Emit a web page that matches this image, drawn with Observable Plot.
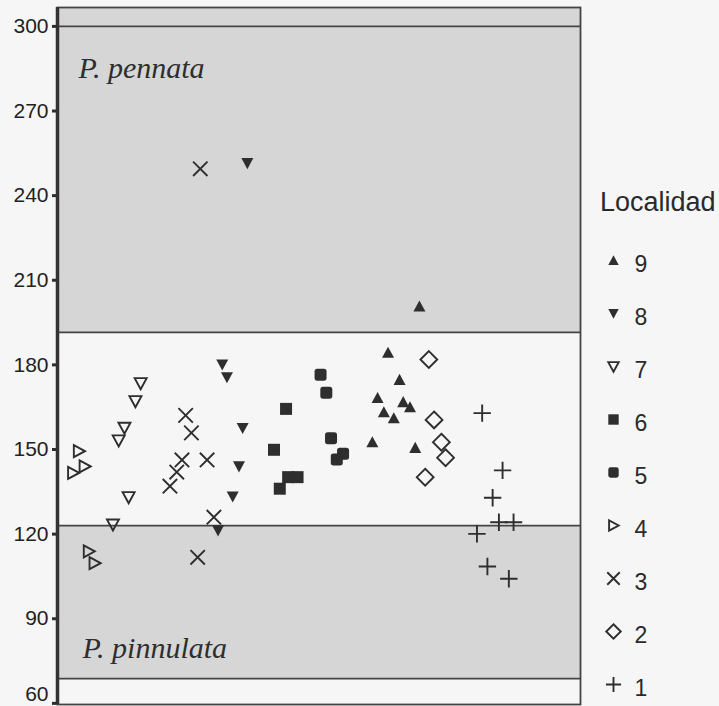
<!DOCTYPE html>
<html>
<head>
<meta charset="utf-8">
<script src="https://cdn.jsdelivr.net/npm/d3@7"></script>
<script src="https://cdn.jsdelivr.net/npm/@observablehq/plot@0.6"></script>
<style>
  html, body { margin: 0; padding: 0; background: #f6f6f6; }
  #wrap { position: relative; width: 719px; height: 706px; overflow: hidden; }
  #legendTitle { position: absolute; left: 600px; top: 189px; font: 27px "Liberation Sans", Arial, sans-serif; color: #2a2a2a; line-height: 1; }
  #legend { position: absolute; left: 590px; top: 235px; }
</style>
</head>
<body>
<div id="wrap">
  <div id="main"></div>
  <div id="legendTitle">Localidad</div>
  <div id="legend"></div>
</div>
<script>
// ---- data (x: arbitrary horizontal position 0-100, y: value) ----
const loc9 = [[69.2,200.7],[63.2,184.3],[65.4,174.7],[61.2,168.3],[66.1,166.8],[67.4,165],[62.4,163.2],[64.3,161.1],[60.2,152.6],[68.4,150.6]];
const loc8 = [[36.3,251.5],[31.5,180.1],[32.4,175.6],[35.4,157.6],[34.7,144],[33.5,133.3],[30.7,121.3]];
const loc7 = [[15.9,173.5],[14.9,167.1],[12.8,157.7],[11.7,153.2],[13.6,133.1],[10.6,123.4]];
const loc6 = [[43.7,164.4],[41.4,149.9],[42.5,136.1],[44.1,140.2],[45.9,140.2]];
const loc5 = [[50.3,176.5],[51.4,170.1],[52.3,154],[54.6,148.5],[53.4,146.5]];
const loc4 = [[4.1,149.4],[5.2,144],[3.0,141.7],[6.0,113.9],[7.1,109.7]];
const loc3 = [[27.3,249.5],[24.5,162.1],[25.6,155.9],[23.8,146.3],[28.6,146.3],[22.8,142],[21.5,137],[29.9,126],[26.8,111.8]];
const loc2 = [[71.0,181.9],[72.0,160.5],[73.4,152.6],[74.2,147.1],[70.3,140.2]];
const loc1 = [[81.2,162.9],[85.1,142.6],[83.2,132.9],[84.4,124.2],[87.2,124.2],[80.2,120.1],[82.2,108.5],[86.3,104.2]];

const localities = ["9","8","7","6","5","4","3","2","1"];
const yTicks = [60, 90, 120, 150, 180, 210, 240, 270, 300];
const xDomain = [0, 100];
const yDomain = [59.6, 306.7];
const bandPennata = [191.5, 306.7];
const bandPinnulata = [68.8, 123];
const boundaryLines = [300, 191.5, 123, 68.8];
const speciesNames = ["P. pennata", "P. pinnulata"];
const speciesX = [4.0, 4.8];
const speciesY = [281.6, 76.2];

// ---- symbols ----
const rad = size => Math.sqrt(size / Math.PI);
const symTriUp = {draw(c, s){const r=rad(s); c.moveTo(0,-r); c.lineTo(r,0.85*r); c.lineTo(-r,0.85*r); c.closePath();}};
const symTriDown = {draw(c, s){const r=rad(s); c.moveTo(0,r); c.lineTo(r,-0.85*r); c.lineTo(-r,-0.85*r); c.closePath();}};
const symTriRight = {draw(c, s){const r=rad(s); c.moveTo(r,0); c.lineTo(-0.85*r,-r); c.lineTo(-0.85*r,r); c.closePath();}};
const symSquare = {draw(c, s){const r=rad(s); c.rect(-r,-r,2*r,2*r);}};
const symRound = {draw(c, s){const r=rad(s), k=0.45*r;
  c.moveTo(-r+k,-r); c.lineTo(r-k,-r); c.quadraticCurveTo(r,-r,r,-r+k); c.lineTo(r,r-k); c.quadraticCurveTo(r,r,r-k,r);
  c.lineTo(-r+k,r); c.quadraticCurveTo(-r,r,-r,r-k); c.lineTo(-r,-r+k); c.quadraticCurveTo(-r,-r,-r+k,-r); c.closePath();}};
const symX = {draw(c, s){const r=rad(s)*1.2; c.moveTo(-r,-r); c.lineTo(r,r); c.moveTo(r,-r); c.lineTo(-r,r);}};
const symPlus = {draw(c, s){const r=rad(s)*1.45; c.moveTo(-r,0); c.lineTo(r,0); c.moveTo(0,-r); c.lineTo(0,r);}};
const symDiamond = {draw(c, s){const r=rad(s)*1.4; c.moveTo(0,-r); c.lineTo(r,0); c.lineTo(0,r); c.lineTo(-r,0); c.closePath();}};

const ink = "#2e2e2e";
const styles = {
  "9": {data: loc9, symbol: symTriUp, filled: true},
  "8": {data: loc8, symbol: symTriDown, filled: true},
  "7": {data: loc7, symbol: symTriDown, filled: false},
  "6": {data: loc6, symbol: symSquare, filled: true},
  "5": {data: loc5, symbol: symRound, filled: true},
  "4": {data: loc4, symbol: symTriRight, filled: false},
  "3": {data: loc3, symbol: symX, filled: false},
  "2": {data: loc2, symbol: symDiamond, filled: false},
  "1": {data: loc1, symbol: symPlus, filled: false}
};
const paint = (st, r) => st.filled
  ? {symbol: st.symbol, r, fill: ink, stroke: "none"}
  : {symbol: st.symbol, r, fill: "none", stroke: ink, strokeWidth: 1.9};

const dotMarks = localities.map(k => Plot.dot(styles[k].data, {x: d => d[0], y: d => d[1], ...paint(styles[k], 6)}));
const axisFont = {fontSize: 21, fill: "#222"};

const main = Plot.plot({
  width: 719, height: 706,
  marginLeft: 57, marginRight: 139, marginTop: 7, marginBottom: 2,
  x: {domain: xDomain, axis: null},
  y: {domain: yDomain, axis: null},
  style: {background: "transparent", color: ink, fontFamily: "'Liberation Sans', Arial, sans-serif", fontSize: "21px"},
  marks: [
    Plot.rect([bandPennata, bandPinnulata], {x1: xDomain[0], x2: xDomain[1], y1: d => d[0], y2: d => d[1], fill: "#d6d6d6"}),
    Plot.ruleY(boundaryLines, {stroke: "#444", strokeWidth: 1.8}),
    Plot.text(speciesNames, {x: (d, i) => speciesX[i], y: (d, i) => speciesY[i], text: d => d, textAnchor: "start", lineAnchor: "bottom",
      fontFamily: "'Liberation Serif', 'Times New Roman', serif", fontStyle: "italic", fontSize: 30, fill: ink}),
    ...dotMarks,
    Plot.frame({stroke: "#444", strokeWidth: 1.8}),
    Plot.ruleX([xDomain[0]], {stroke: "#333", strokeWidth: 3.5}),
    Plot.axisY(yTicks, {tickSize: 5, tickPadding: 4, strokeWidth: 3, label: null, tickFormat: () => ""}),
    Plot.text(yTicks.filter(t => t > yTicks[0]), {y: d => d, text: d => String(d), frameAnchor: "left", textAnchor: "end", dx: -9, ...axisFont}),
    Plot.text([yTicks[0]], {y: d => d, text: d => String(d), frameAnchor: "left", textAnchor: "end", dx: -9, dy: -9, ...axisFont})
  ]
});
document.getElementById("main").append(main);

const legend = Plot.plot({
  width: 129, height: 480,
  marginLeft: 13, marginRight: 96, marginTop: 28.5, marginBottom: 26.5,
  x: {domain: [0, 1], axis: null},
  y: {type: "point", domain: localities, padding: 0, axis: null},
  style: {background: "transparent", color: ink, fontFamily: "'Liberation Sans', Arial, sans-serif"},
  marks: [
    ...localities.map(k => Plot.dot([k], {y: d => d, frameAnchor: "middle", dy: -4, ...paint(styles[k], 5.2)})),
    Plot.text(localities, {y: d => d, text: d => d, frameAnchor: "middle", textAnchor: "start", dx: 21, fontSize: 23, fill: "#2a2a2a"})
  ]
});
document.getElementById("legend").append(legend);
</script>
</body>
</html>
